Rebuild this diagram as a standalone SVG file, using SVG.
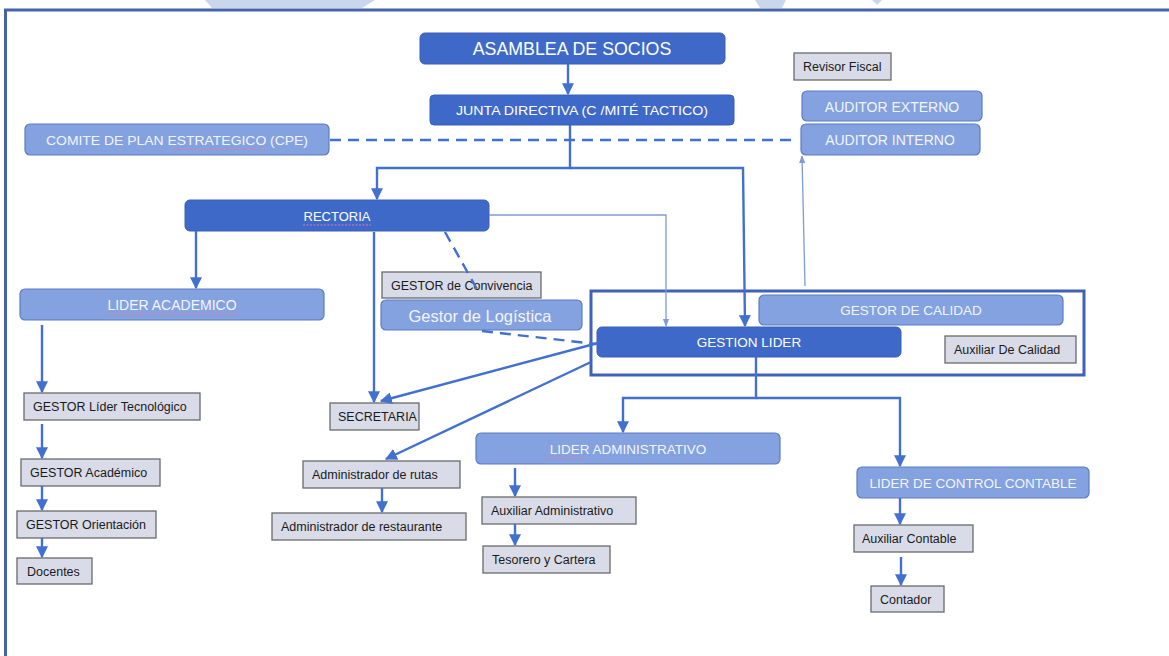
<svg xmlns="http://www.w3.org/2000/svg" width="1169" height="656" viewBox="0 0 1169 656">
<style>
.dk{fill:#3f69c9;stroke:#3a5fb5;stroke-width:1}
.lt{fill:#84a1e0;stroke:#5a7cc4;stroke-width:1.2}
.gr{fill:#d9dce8;stroke:#6a6a6a;stroke-width:1.3}
.tw{font-family:"Liberation Sans",Arial,sans-serif;fill:#ffffff;text-anchor:middle;dominant-baseline:central}
.tl{font-family:"Liberation Sans",Arial,sans-serif;fill:#f2f5fc;text-anchor:middle;dominant-baseline:central}
.tg{font-family:"Liberation Sans",Arial,sans-serif;fill:#1a1a1a;font-size:12.5px;dominant-baseline:central}
.c{fill:none;stroke:#4270cf;stroke-width:2.4}
.cthin{fill:none;stroke:#7f9ad6;stroke-width:1.3}
.dash{fill:none;stroke:#4270cf;stroke-width:2.4;stroke-dasharray:11 7}
.sq{fill:none;stroke:#e87a9a;stroke-width:1;stroke-dasharray:2 1.5}
</style>
<defs>
<marker id="ah" viewBox="0 0 10 10" refX="9" refY="5" markerWidth="5" markerHeight="5" orient="auto" markerUnits="strokeWidth">
<path d="M0,0 L10,5 L0,10 z" fill="#4270cf"/>
</marker>
<marker id="ahs" viewBox="0 0 10 10" refX="9" refY="5" markerWidth="6" markerHeight="6" orient="auto" markerUnits="strokeWidth">
<path d="M0,1 L10,5 L0,9 z" fill="#7f9ad6"/>
</marker>
</defs>
<rect x="0" y="0" width="1169" height="656" fill="#ffffff"/>
<g id="watermark" fill="#c9d6ec">
<polygon points="205,0 375,0 362,8 212,8"/>
<polygon points="755,0 786,0 782,8 760,8"/>
<polygon points="872,0 882,0 877,5"/>
</g>
<g id="frame" fill="none" stroke="#4662a8" stroke-width="3">
<line x1="4" y1="10" x2="1169" y2="10"/>
<line x1="5.5" y1="9" x2="5.5" y2="656"/>
</g>

<g id="grupo-calidad">
<rect x="591" y="291" width="493" height="84" fill="none" stroke="#3f61b8" stroke-width="3"/>
</g>

<g id="asamblea"><rect class="dk" x="420" y="33" width="305" height="31" rx="5"/><text class="tw" x="572" y="49" font-size="17.8">ASAMBLEA DE SOCIOS</text></g>
<g id="junta"><rect class="dk" x="430" y="95" width="304" height="30" rx="4"/><text class="tw" x="582" y="110.5" font-size="13" textLength="252" lengthAdjust="spacingAndGlyphs">JUNTA DIRECTIVA (C /MITÉ TACTICO)</text></g>
<g id="cpe"><rect class="lt" x="25" y="124" width="304" height="31" rx="5"/><text class="tl" x="177" y="140" font-size="13.5" textLength="262" lengthAdjust="spacingAndGlyphs">COMITE DE PLAN ESTRATEGICO (CPE)</text><path class="sq" d="M173,149 L265,149"/></g>
<g id="revisor"><rect class="gr" x="794" y="53" width="97" height="27"/><text class="tg" x="803" y="67">Revisor Fiscal</text></g>
<g id="auditor-externo"><rect class="lt" x="802" y="91" width="180" height="30" rx="5"/><text class="tl" x="892" y="106.5" font-size="14">AUDITOR EXTERNO</text></g>
<g id="auditor-interno"><rect class="lt" x="801" y="124" width="179" height="31" rx="5"/><text class="tl" x="890" y="140" font-size="14">AUDITOR INTERNO</text></g>
<g id="rectoria"><rect class="dk" x="185" y="200" width="304" height="31" rx="5"/><text class="tw" x="337" y="216" font-size="13">RECTORIA</text><path class="sq" d="M303,225 L371,225"/></g>
<g id="lider-academico"><rect class="lt" x="20" y="289" width="304" height="31" rx="5"/><text class="tl" x="172" y="305" font-size="14">LIDER ACADEMICO</text><path class="sq" d="M107,314 L237,314"/></g>
<g id="gestor-convivencia"><rect class="gr" x="382" y="272" width="159" height="26"/><text class="tg" x="391" y="285.5">GESTOR de Convivencia</text></g>
<g id="gestor-logistica"><rect class="lt" x="381" y="300" width="201" height="30" rx="5"/><text class="tl" x="480" y="316" font-size="16.5">Gestor de Logística</text></g>
<g id="gestion-lider"><rect class="dk" x="597" y="327" width="304" height="30" rx="5"/><text class="tw" x="749" y="342.5" font-size="13.5">GESTION LIDER</text></g>
<g id="gestor-calidad"><rect class="lt" x="759" y="295" width="304" height="30" rx="5"/><text class="tl" x="911" y="310.5" font-size="13.5">GESTOR DE CALIDAD</text></g>
<g id="auxiliar-calidad"><rect class="gr" x="945" y="336" width="131" height="27"/><text class="tg" x="954" y="350">Auxiliar De Calidad</text></g>
<g id="secretaria"><rect class="gr" x="330" y="403" width="89" height="27"/><text class="tg" x="338" y="417">SECRETARIA</text></g>
<g id="admin-rutas"><rect class="gr" x="303" y="461" width="157" height="27"/><text class="tg" x="312" y="475">Administrador de rutas</text></g>
<g id="admin-restaurante"><rect class="gr" x="272" y="513" width="194" height="27"/><text class="tg" x="281" y="527">Administrador de restaurante</text></g>
<g id="lider-administrativo"><rect class="lt" x="476" y="433" width="304" height="31" rx="5"/><text class="tl" x="628" y="449" font-size="13.5">LIDER ADMINISTRATIVO</text><path class="sq" d="M546,458 L583,458"/></g>
<g id="auxiliar-administrativo"><rect class="gr" x="482" y="497" width="154" height="27"/><text class="tg" x="491" y="511">Auxiliar Administrativo</text></g>
<g id="tesorero"><rect class="gr" x="483" y="546" width="127" height="27"/><text class="tg" x="492" y="560">Tesorero y Cartera</text></g>
<g id="lider-contable"><rect class="lt" x="857" y="467" width="232" height="31" rx="5"/><text class="tl" x="973" y="483" font-size="13.5">LIDER DE CONTROL CONTABLE</text></g>
<g id="auxiliar-contable"><rect class="gr" x="854" y="525" width="119" height="27"/><text class="tg" x="862" y="539">Auxiliar Contable</text></g>
<g id="contador"><rect class="gr" x="871" y="586" width="73" height="26"/><text class="tg" x="880" y="599.5">Contador</text></g>
<g id="gestor-tecnologico"><rect class="gr" x="24" y="393" width="176" height="27"/><text class="tg" x="33" y="407">GESTOR Líder Tecnológico</text></g>
<g id="gestor-academico"><rect class="gr" x="21" y="459" width="139" height="27"/><text class="tg" x="30" y="473">GESTOR Académico</text></g>
<g id="gestor-orientacion"><rect class="gr" x="17" y="511" width="139" height="27"/><text class="tg" x="26" y="525">GESTOR Orientación</text></g>
<g id="docentes"><rect class="gr" x="17" y="558" width="75" height="26"/><text class="tg" x="27" y="571.5">Docentes</text></g>

<g id="connectors">
<line class="c" x1="568" y1="64" x2="568" y2="94" marker-end="url(#ah)"/>
<polyline class="c" points="570,125 570,168 377,168 377,199" marker-end="url(#ah)" stroke-width="2"/>
<polyline class="c" points="570,168 743,168 745,326" marker-end="url(#ah)" stroke-width="2"/>
<line class="dash" x1="330" y1="140" x2="798" y2="140"/>
<line class="cthin" x1="805" y1="286" x2="802" y2="156" marker-end="url(#ahs)"/>
<polyline class="cthin" points="489,215 666,215 666,326" marker-end="url(#ahs)"/>
<line class="dash" x1="445" y1="232" x2="478" y2="291"/>
<line class="c" x1="196" y1="231" x2="196" y2="288" marker-end="url(#ah)"/>
<line class="c" x1="374" y1="232" x2="374" y2="402" marker-end="url(#ah)"/>
<line class="dash" x1="482" y1="331" x2="596" y2="344"/>
<line class="c" x1="598" y1="343" x2="381" y2="401" marker-end="url(#ah)"/>
<line class="c" x1="591" y1="362" x2="386" y2="459" marker-end="url(#ah)"/>
<line class="c" x1="382" y1="488" x2="382" y2="512" marker-end="url(#ah)"/>
<polyline class="c" points="756,357 756,398 623,398 623,432" marker-end="url(#ah)" stroke-width="2"/>
<polyline class="c" points="756,398 900,398 900,466" marker-end="url(#ah)" stroke-width="2"/>
<line class="c" x1="515" y1="468" x2="515" y2="496" marker-end="url(#ah)"/>
<line class="c" x1="515" y1="524" x2="515" y2="545" marker-end="url(#ah)"/>
<line class="c" x1="900" y1="498" x2="900" y2="524" marker-end="url(#ah)"/>
<line class="c" x1="901" y1="557" x2="901" y2="585" marker-end="url(#ah)"/>
<line class="c" x1="42" y1="325" x2="42" y2="392" marker-end="url(#ah)"/>
<line class="c" x1="42" y1="424" x2="42" y2="458" marker-end="url(#ah)"/>
<line class="c" x1="42" y1="486" x2="42" y2="510" marker-end="url(#ah)"/>
<line class="c" x1="42" y1="538" x2="42" y2="557" marker-end="url(#ah)"/>
</g>
</svg>
